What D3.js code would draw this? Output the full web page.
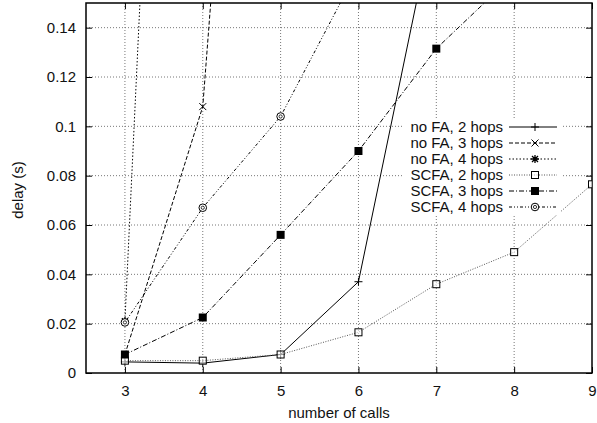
<!DOCTYPE html>
<html>
<head>
<meta charset="utf-8">
<script src="https://cdn.jsdelivr.net/npm/d3@7"></script>
<style>
body{margin:0;background:#fff;}
svg{display:block;font-family:"Liberation Sans",Arial,sans-serif;}
</style>
</head>
<body>
<svg id="chart"></svg>
<script>
// data
let calls = [3, 4, 5, 6, 7, 8, 9];
let noFA2 = [0.0045, 0.004, 0.0075, 0.037, 0.189];
let noFA3 = [0.0075, 0.108, 0.52];
let noFA4 = [0.021, 0.69];
let scfa2 = [0.005, 0.005, 0.0075, 0.0165, 0.036, 0.049, 0.0765];
let scfa3 = [0.0075, 0.0225, 0.056, 0.090, 0.1315, 0.1615];
let scfa4 = [0.0205, 0.067, 0.104, 0.164];
let yTicks = [0, 0.02, 0.04, 0.06, 0.08, 0.1, 0.12, 0.14];
let seriesNames = ["no FA, 2 hops", "no FA, 3 hops", "no FA, 4 hops", "SCFA, 2 hops", "SCFA, 3 hops", "SCFA, 4 hops"];

const w = 597, h = 423;
const padL = 86, padR = 592, padT = 3, padB = 373;
const fs = 15;

let svg = d3.select("#chart").attr("width", w).attr("height", h);

let xScale = d3.scaleLinear().domain([2.5, 9]).range([padL, padR]);
let yScale = d3.scaleLinear().domain([0, 0.15]).range([padB, padT]);

// clip for the lines
svg.append("defs").append("clipPath").attr("id", "plotclip")
  .append("rect").attr("x", padL).attr("y", padT).attr("width", padR - padL).attr("height", padB - padT);

// grid
let grid = svg.append("g");
grid.selectAll(".gy").data(yTicks.slice(1)).enter().append("line")
  .attr("x1", padL).attr("x2", padR)
  .attr("y1", d => yScale(d)).attr("y2", d => yScale(d))
  .attr("stroke", "#777").attr("stroke-width", 1).attr("stroke-dasharray", "1,2");
grid.selectAll(".gx").data(calls.slice(0, -1)).enter().append("line")
  .attr("x1", d => xScale(d)).attr("x2", d => xScale(d))
  .attr("y1", padT).attr("y2", padB)
  .attr("stroke", "#777").attr("stroke-width", 1).attr("stroke-dasharray", "1,2");

// axes
let xAxis = d3.axisBottom(xScale).tickValues(calls).tickFormat(d3.format("d")).tickSizeInner(-6).tickSizeOuter(0).tickPadding(12);
let gx = svg.append("g").attr("transform", "translate(0," + padB + ")").call(xAxis);
let yAxis = d3.axisLeft(yScale).tickValues(yTicks).tickFormat(d => d === 0 ? "0" : String(+d.toFixed(2))).tickSizeInner(-6).tickSizeOuter(0).tickPadding(10);
let gy = svg.append("g").attr("transform", "translate(" + padL + ",0)").call(yAxis);
// mirror ticks
svg.append("g").attr("transform", "translate(" + padR + ",0)")
  .call(d3.axisRight(yScale).tickValues(yTicks).tickSizeInner(-6).tickSizeOuter(0).tickFormat(""));
svg.append("g").attr("transform", "translate(0," + padT + ")")
  .call(d3.axisTop(xScale).tickValues(calls).tickSizeInner(-6).tickSizeOuter(0).tickFormat(""));
svg.selectAll(".domain").remove();
svg.selectAll(".tick line").attr("stroke", "#000");
[gx, gy].forEach(g => g.selectAll("text").attr("font-size", fs).attr("fill", "#111").attr("font-family", "Liberation Sans, Arial, sans-serif"));

// frame
svg.append("rect").attr("x", padL).attr("y", padT).attr("width", padR - padL).attr("height", padB - padT)
  .attr("fill", "none").attr("stroke", "#000").attr("stroke-width", 1.5);

// axis titles
svg.append("text").attr("x", (padL + padR) / 2).attr("y", 418).attr("text-anchor", "middle")
  .attr("font-size", fs).attr("fill", "#111").text("number of calls");
svg.append("text").attr("transform", "translate(23," + 190 + ") rotate(-90)")
  .attr("text-anchor", "middle").attr("font-size", fs).attr("fill", "#111").text("delay (s)");

// series styling
let allSeries = [
  {vals: noFA2, dash: null, color: "#000", mark: "plus"},
  {vals: noFA3, dash: "4,2", color: "#000", mark: "cross"},
  {vals: noFA4, dash: "1.5,2", color: "#000", mark: "star"},
  {vals: scfa2, dash: "1,1.5", color: "#555", mark: "square"},
  {vals: scfa3, dash: "5,2,1,2", color: "#000", mark: "fsquare"},
  {vals: scfa4, dash: "3,2,1,2,1,2", color: "#000", mark: "circle"}
];

let line = d3.line().x(d => xScale(d[0])).y(d => yScale(d[1]));

function drawMark(g, type, x, y, color) {
  if (type === "plus") {
    g.append("path").attr("d", `M${x-4},${y}H${x+4}M${x},${y-4}V${y+4}`).attr("stroke", color).attr("stroke-width", 1);
  } else if (type === "cross") {
    g.append("path").attr("d", `M${x-3.5},${y-3.5}L${x+3.5},${y+3.5}M${x-3.5},${y+3.5}L${x+3.5},${y-3.5}`).attr("stroke", color).attr("stroke-width", 1);
  } else if (type === "star") {
    g.append("path").attr("d", `M${x-4},${y}H${x+4}M${x},${y-4}V${y+4}M${x-3},${y-3}L${x+3},${y+3}M${x-3},${y+3}L${x+3},${y-3}`).attr("stroke", color).attr("stroke-width", 1.3);
  } else if (type === "square") {
    g.append("rect").attr("x", x - 3.5).attr("y", y - 3.5).attr("width", 7).attr("height", 7)
      .attr("fill", "#fff").attr("fill-opacity", 0.6).attr("stroke", "#000").attr("stroke-width", 1);
  } else if (type === "fsquare") {
    g.append("rect").attr("x", x - 4).attr("y", y - 4).attr("width", 8).attr("height", 8).attr("fill", "#000");
  } else if (type === "circle") {
    g.append("circle").attr("cx", x).attr("cy", y).attr("r", 3.8).attr("fill", "#fff").attr("stroke", "#000").attr("stroke-width", 1);
    g.append("circle").attr("cx", x).attr("cy", y).attr("r", 1.6).attr("fill", "none").attr("stroke", "#000").attr("stroke-width", 0.8);
  }
}

let plot = svg.append("g").attr("clip-path", "url(#plotclip)");
allSeries.forEach(s => {
  let pts = s.vals.map((v, i) => [calls[i], v]);
  plot.append("path").datum(pts).attr("d", line)
    .attr("fill", "none").attr("stroke", s.color).attr("stroke-width", 1)
    .attr("stroke-dasharray", s.dash);
});
allSeries.forEach(s => {
  s.vals.forEach((v, i) => {
    if (v <= 0.15) drawMark(plot, s.mark, xScale(calls[i]), yScale(v), s.color);
  });
});

// legend
let leg = svg.append("g");
seriesNames.forEach((name, i) => {
  let y = 127 + i * 16;
  leg.append("rect").attr("x", 403).attr("y", y - 8).attr("width", 158).attr("height", 16).attr("fill", "#fff");
});
seriesNames.forEach((name, i) => {
  let y = 127 + i * 16;
  let s = allSeries[i];
  leg.append("text").attr("x", 503).attr("y", y + 5).attr("text-anchor", "end")
    .attr("font-size", fs).attr("fill", "#111").text(name);
  leg.append("line").attr("x1", 509).attr("x2", 557).attr("y1", y).attr("y2", y)
    .attr("stroke", s.color).attr("stroke-width", 1).attr("stroke-dasharray", s.dash);
  drawMark(leg, s.mark, 535, y, s.color);
});
</script>
</body>
</html>
